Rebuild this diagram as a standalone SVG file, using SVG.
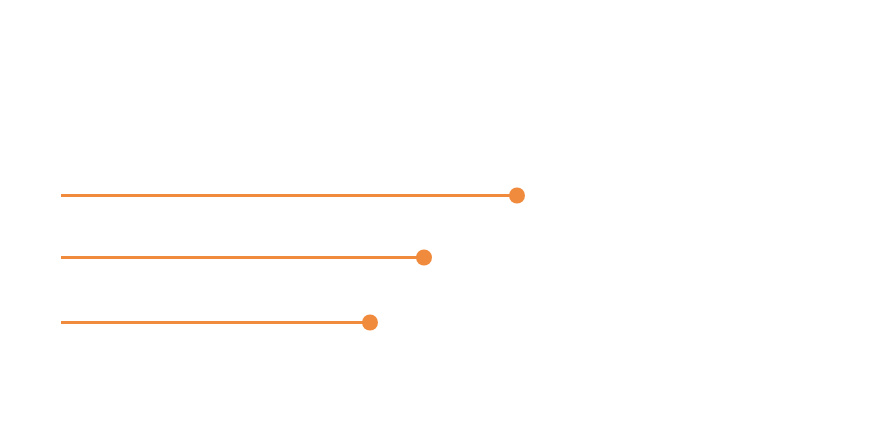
<svg xmlns="http://www.w3.org/2000/svg" width="891" height="446" viewBox="0 0 891 446">
<style>
.l{stroke:#f08a3c;stroke-width:3;fill:none}
.d{fill:#f08a3c}
</style>
<rect width="891" height="446" fill="#fff"/>
<g id="connectors">
<line class="l" x1="61" y1="195.5" x2="517" y2="195.5"/>
<line class="l" x1="61" y1="257.5" x2="424" y2="257.5"/>
<line class="l" x1="61" y1="322.5" x2="370" y2="322.5"/>
</g>
<g id="n1"><circle class="d" cx="517" cy="195.5" r="8"/></g>
<g id="n2"><circle class="d" cx="424" cy="257.5" r="8"/></g>
<g id="n3"><circle class="d" cx="370" cy="322.5" r="8"/></g>
</svg>
